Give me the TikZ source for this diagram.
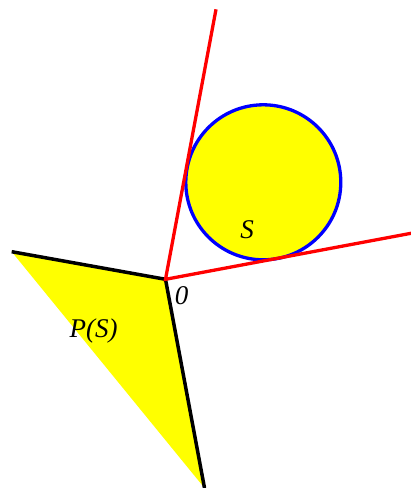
\documentclass[tikz,border=0pt]{standalone}
\usepackage{fontspec}
\setmainfont{Liberation Serif}
\begin{document}
\begin{tikzpicture}[x=1pt,y=-1pt,
  redline/.style={draw={rgb,255:red,255;green,0;blue,0},line width=3.3pt},
  blackline/.style={draw=black,line width=3.5pt},
  lbl/.style={font=\fontsize{27}{27}\selectfont\itshape,inner sep=0pt}]
\definecolor{pureyellow}{RGB}{255,255,0}
\useasboundingbox (0,0) rectangle (411,488);
\coordinate (O) at (165.5,279.3);
\coordinate (A) at (216,9.3);
\coordinate (B) at (412,233.1);
\coordinate (L) at (11.7,251.7);
\coordinate (D) at (204.5,488);
\coordinate (C) at (263.3,182.3);
% polar cone
\fill[pureyellow] (L) -- (O) -- (D) -- cycle;
\draw[blackline] (L) -- (O) -- (D);
% set S
\draw[fill=pureyellow,draw=blue,line width=3.3pt] (C) circle (77.5);
% cone
\draw[redline] (A) -- (O) -- (B);
\node[lbl] (s) at (247,230) {S};
\node[lbl] (o) at (181.5,296) {0};
\node[lbl] (ps) at (93.5,331) {P(S)};
\end{tikzpicture}
\end{document}
